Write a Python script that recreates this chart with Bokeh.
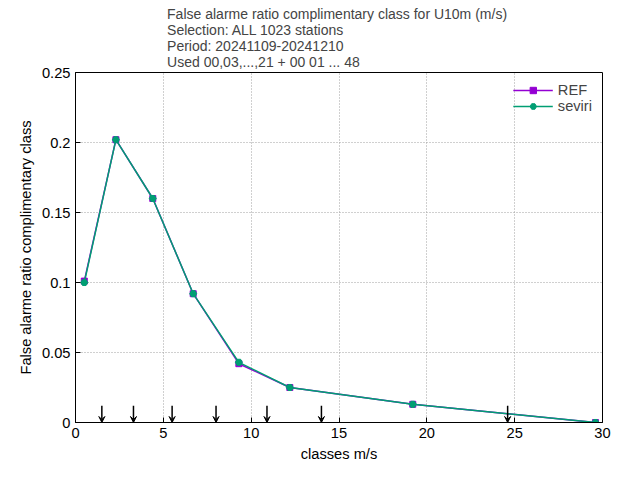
from bokeh.plotting import figure
from bokeh.models import Range1d, Legend, LegendItem, Title, Arrow, VeeHead, FixedTicker
from bokeh.embed import file_html
from bokeh.resources import INLINE

x = [0.5, 2.3, 4.4, 6.7, 9.3, 12.2, 19.2, 29.6]
ref = [0.101, 0.202, 0.160, 0.092, 0.042, 0.025, 0.013, 0.0]
seviri = [0.100, 0.202, 0.160, 0.092, 0.043, 0.025, 0.013, 0.0]
arrow_x = [1.5, 3.3, 5.5, 8.0, 10.9, 14.0, 24.6]
titles = ["False alarme ratio complimentary class  for U10m (m/s)",
          "Selection: ALL    1023 stations",
          "Period: 20241109-20241210",
          "Used 00,03,...,21 + 00 01 ... 48"]

p = figure(width=624, height=464, output_backend="svg", toolbar_location=None,
           x_range=Range1d(0, 30), y_range=Range1d(0, 0.25),
           min_border_left=75, min_border_right=22, min_border_bottom=42,
           min_border_top=5)
p.outline_line_color = "black"
p.add_layout(Title(text="\n".join(titles), align="center", text_font="Liberation Sans",
                   text_font_size="10.5pt", text_font_style="normal",
                   text_line_height=1.0, offset=38, standoff=6), "above")
p.xaxis.axis_label = "classes m/s"
p.yaxis.axis_label = "False alarme ratio complimentary class"
for ax in (p.xaxis, p.yaxis):
    ax.axis_label_text_font = "Liberation Sans"
    ax.axis_label_text_font_style = "normal"
    ax.axis_label_text_font_size = "11pt"
    ax.axis_label_text_color = "black"
    ax.major_label_text_font = "Liberation Sans"
    ax.major_label_text_font_size = "11pt"
    ax.major_label_text_color = "black"
    ax.minor_tick_line_color = None
    ax.major_tick_in = 5
    ax.major_tick_out = 0
    ax.axis_line_color = "black"
    ax.major_tick_line_color = "black"
p.xaxis.ticker = FixedTicker(ticks=[0, 5, 10, 15, 20, 25, 30])
p.yaxis.ticker = FixedTicker(ticks=[0, 0.05, 0.1, 0.15, 0.2, 0.25])
p.grid.grid_line_color = "#a0a0a0"
p.grid.grid_line_dash = "1 2"

r1 = p.line(x, ref, color="#9400d3", line_width=1.5)
s1 = p.scatter(x, ref, color="#9400d3", size=6, marker="square")
r2 = p.line(x, seviri, color="#009e73", line_width=1.5)
s2 = p.scatter(x, seviri, color="#009e73", size=7, marker="hex")

for ax_ in arrow_x:
    p.add_layout(Arrow(end=VeeHead(size=6, fill_color="black", line_color="black"),
                       x_start=ax_, y_start=0.012, x_end=ax_, y_end=0.0,
                       line_color="black", line_width=1.5))

leg = Legend(items=[LegendItem(label="REF", renderers=[r1, s1]),
                    LegendItem(label="seviri", renderers=[r2, s2])],
             location="top_right", border_line_color=None,
             background_fill_alpha=0, label_text_font="Liberation Sans",
             label_text_font_size="11pt", glyph_width=40, spacing=0,
             padding=2, label_height=16, glyph_height=16)
p.add_layout(leg)

open("out.html", "w").write(file_html(p, INLINE))
